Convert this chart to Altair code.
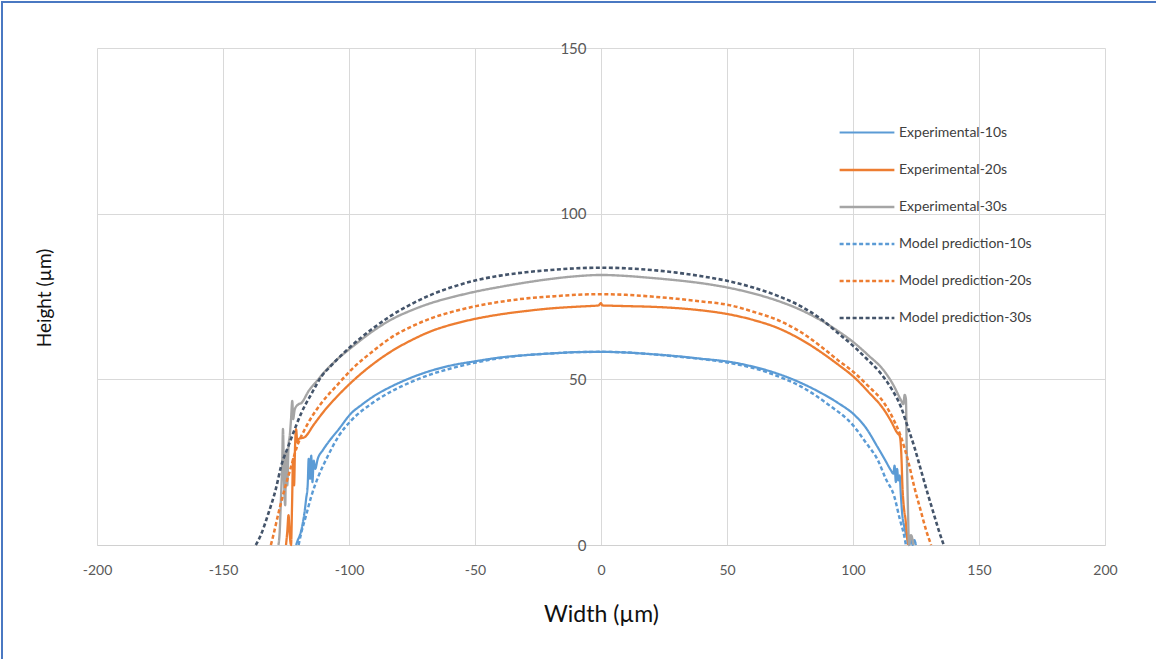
import altair as alt
import pandas as pd

# ---------------- data ----------------
series_names = ["Experimental-10s", "Experimental-20s", "Experimental-30s",
                "Model prediction-10s", "Model prediction-20s", "Model prediction-30s"]
series_colors = ["#5B9BD5", "#ED7D31", "#A5A5A5", "#5B9BD5", "#ED7D31", "#44546A"]
series_dash = [[1, 0], [1, 0], [1, 0], [4, 2.5], [4, 2.5], [4, 2.5]]
series_width = [2.2, 2.6, 2.2, 1.5, 1.5, 1.6]

exp10_x = [-121, -120.3, -119.7, -118.5, -117.7, -117, -116.4, -116, -115.5, -115, -114.5, -114, -113.4,
           -112.4, -110.5, -108.5, -104, -99.2, -95, -90, -83.3, -75, -67.5, -60, -49.6, -40, -30, -20,
           -10, 0, 10, 20, 30, 40, 50.9, 60, 70.1, 79.4, 87.3, 94, 100.5, 105, 109.8, 113, 115, 116, 116.5,
           117, 117.5, 118, 118.5, 119, 119.5, 120.5, 121.7, 122.3, 123, 123.7, 124.3, 125]
exp10_y = [0, 1.5, 2.5, 6, 9.6, 14, 18, 26, 20, 27, 19, 25.5, 23,
           26, 28.5, 30.7, 35, 39.7, 42.3, 45, 47.8, 50.6, 52.6, 54.1, 55.5, 56.6, 57.3, 57.8,
           58.2, 58.3, 58.1, 57.6, 57, 56.2, 55.3, 53.9, 51.7, 48.9, 45.9, 42.9, 39.3, 35.5, 29.5, 25.3, 22.6, 21.5, 24,
           19, 23, 19.5, 21, 15, 9.6, 5, 1.5, 0, 2, 0, 1.5, 0]

exp20_x = [-125, -124.5, -124, -123.5, -123, -122.6, -122.2, -121.8, -121.4, -121, -120.5, -120, -117.7,
           -114, -109.8, -105, -99.2, -91, -83.3, -75, -67.5, -58, -49.6, -40, -30, -20, -10, -5, -1, 0,
           0.5, 5, 10, 20, 30, 40, 50.9, 60, 70.1, 79.4, 87.3, 94, 100.5, 106, 112.4, 115, 117.7, 118.5,
           119, 119.3, 119.6, 120, 120.3, 120.8, 121.3, 121.8]
exp20_y = [0, 4, 9, 3, 0, 12, 26, 18, 30, 35, 31, 32, 32.5,
           36.3, 40.5, 44.6, 49, 54.3, 58.4, 61.9, 64.5, 66.8, 68.3, 69.6, 70.6, 71.4, 71.9, 72.1, 72.3, 73,
           72.3, 72.2, 72.1, 71.9, 71.5, 70.8, 69.6, 68, 65.5, 62, 58.2, 54.5, 50.6, 46.3, 40.7, 37.5, 33.7, 33,
           30, 25, 18, 13, 10.6, 8, 4, 0]

exp30_x = [-128, -127.5, -127, -126.5, -126.2, -125.8, -125.3, -125, -124.5, -124, -123.5, -123, -122.5,
           -122.2, -121.5, -120, -119, -116, -112.4, -110, -105, -99.2, -91, -83.3, -75, -67.5, -58, -49.6,
           -40, -30, -20, -10, 0, 10, 20, 30, 40, 50.9, 60, 70.1, 79.4, 87.3, 94, 100.5, 106, 112.4, 116,
           119, 120, 120.5, 121, 121.3, 121.6, 121.9, 122.2, 123, 124]
exp30_y = [0, 4, 14, 25, 35, 20, 12, 28, 18, 30, 33, 38, 43.5,
           38, 41, 42.5, 42.8, 46.5, 49.8, 52, 55.8, 59.5, 64.3, 68, 70.9, 73, 75, 76.5,
           77.9, 79.2, 80.3, 81.1, 81.5, 81.2, 80.6, 79.9, 79, 77.6, 76, 73.7, 70.9, 67.8, 64.6, 61, 57.3, 52.5, 48.3,
           43.8, 42.5, 45.3, 44, 30, 18, 8, 0, 3, 0]

mod10_x = [-120, -119, -117, -115, -112, -108.5, -104, -99.2, -90, -83.3, -75, -67.5, -60, -49.6,
           -40, -30, -20, -10, 0, 10, 20, 30, 40, 50, 60, 70, 79.4, 90, 100.5, 105, 109.8, 113, 116.4,
           118.5, 120.4, 121]
mod10_y = [0, 3.5, 9, 14.6, 21, 26.7, 33, 37.5, 43.2, 46.3, 49.3, 51.5, 53.2, 55.1,
           56.4, 57.3, 57.8, 58.2, 58.3, 58.1, 57.6, 56.9, 56.1, 55.1, 53.5, 51, 47.8, 42.5, 35.7, 31, 25.7, 20, 14.6,
           8, 2.5, 0]

mod20_x = [-131, -130, -128, -125.5, -123, -120.5, -117.7, -114.5, -111, -105, -99.2, -91, -83.3, -75,
           -67.5, -58, -49.6, -40, -30, -20, -10, 0, 10, 20, 30, 40, 50.9, 60, 70.1, 79.4, 87.3, 94, 100.5,
           106, 112.4, 116, 119, 122, 124.3, 127, 129, 131]
mod20_y = [0, 3, 9.6, 17, 23.6, 30, 34.7, 39, 42.8, 48, 52.8, 58.2, 62.6, 66,
           68.4, 70.6, 72.1, 73.4, 74.4, 75, 75.5, 75.7, 75.5, 75, 74.3, 73.5, 72.4, 70.5, 67.9, 64.2, 59.9, 55.8, 52,
           48, 42.8, 38, 32.7, 25, 17.6, 10, 4.5, 0]

mod30_x = [-137, -135, -132, -129, -127, -124, -121, -119, -115, -111, -107, -103, -99.2, -91, -83.3,
           -75, -67.5, -58, -49.6, -40, -30, -20, -10, 0, 10, 20, 30, 40, 50.9, 60, 70.1, 79.4, 87.3, 94,
           100.5, 105, 111, 115, 119, 122, 124.3, 127, 129.6, 132, 134, 136]
mod30_y = [0, 3, 9.5, 17, 23.6, 30, 36, 39.7, 45.5, 50.8, 54.2, 57.3, 60, 65.1, 69.2,
           72.8, 75.5, 78.1, 79.9, 81.3, 82.3, 83, 83.5, 83.7, 83.5, 83, 82.2, 81.1, 79.6, 77.8, 75.2, 72, 68.2, 64,
           59.8, 56.5, 51.8, 47.5, 41.7, 35, 29.7, 22.5, 15.6, 9.5, 4.5, 0]

x_ticks = [-200, -150, -100, -50, 0, 50, 100, 150, 200]
y_ticks = [0, 50, 100, 150]

# ---------------- table ----------------
all_x = [exp10_x, exp20_x, exp30_x, mod10_x, mod20_x, mod30_x]
all_y = [exp10_y, exp20_y, exp30_y, mod10_y, mod20_y, mod30_y]
rows = []
for name, xs, ys in zip(series_names, all_x, all_y):
    for i, (xv, yv) in enumerate(zip(xs, ys)):
        rows.append({"series": name, "i": i, "x": xv, "y": yv})
df = pd.DataFrame(rows)

FONT = "Lato"
W, H = 1008, 497
PAD_L, PAD_T = 97, 48

legend = alt.Legend(
    title=None, orient="none", legendX=741, legendY=56,
    symbolType="stroke", symbolSize=3000, labelFont=FONT, labelFontSize=14,
    labelColor="#404040", rowPadding=1, labelOffset=3, padding=0,
)

lines = alt.Chart(df).mark_line(clip=False, interpolate="monotone").encode(
    x=alt.X("x:Q", scale=alt.Scale(domain=[-200, 200], nice=False),
            axis=alt.Axis(values=x_ticks, title="Width (µm)", grid=True, gridColor="#D9D9D9",
                          domainColor="#D0D0D0", ticks=False, labelFont=FONT, labelFontSize=14,
                          labelColor="#595959", labelPadding=18, labelExpr="toString(datum.value)",
                          labelFlush=False, titleFont=FONT, titleFontSize=23,
                          titleFontWeight="normal", titleColor="#111111", titlePadding=26)),
    y=alt.Y("y:Q", scale=alt.Scale(domain=[0, 150], nice=False),
            axis=alt.Axis(values=y_ticks, title=None, grid=True, gridColor="#D9D9D9", domain=False,
                          ticks=False, offset=-504, labelFont=FONT, labelFontSize=15,
                          labelColor="#595959", labelPadding=15)),
    color=alt.Color("series:N", scale=alt.Scale(domain=series_names, range=series_colors), legend=legend),
    strokeDash=alt.StrokeDash("series:N", scale=alt.Scale(domain=series_names, range=series_dash), legend=legend),
    strokeWidth=alt.StrokeWidth("series:N", scale=alt.Scale(domain=series_names, range=series_width), legend=legend),
    order=alt.Order("i:Q"),
)

ytitle = alt.Chart(pd.DataFrame({"t": ["Height (µm)"]})).mark_text(
    font=FONT, fontSize=19, color="#111111", angle=270, align="center", baseline="middle"
).encode(text="t:N", x=alt.value(45 - PAD_L), y=alt.value(298 - PAD_T))

frame_top = alt.Chart(pd.DataFrame({"a": [0]})).mark_rule(color="#4A78C2", strokeWidth=2).encode(
    x=alt.value(1 - PAD_L), x2=alt.value(1156 - PAD_L), y=alt.value(2 - PAD_T))
frame_left = alt.Chart(pd.DataFrame({"a": [0]})).mark_rule(color="#4A78C2", strokeWidth=2).encode(
    x=alt.value(2 - PAD_L), y=alt.value(1 - PAD_T), y2=alt.value(659 - PAD_T))

chart = alt.layer(lines, ytitle, frame_top, frame_left).properties(
    width=W, height=H,
    autosize=alt.AutoSizeParams(type="none"),
    padding={"left": PAD_L, "top": PAD_T, "right": 1156 - PAD_L - W, "bottom": 659 - PAD_T - H},
    background="white",
).configure_view(stroke=None)

chart.save("out.html", embed_options={"renderer": "svg", "actions": False})
